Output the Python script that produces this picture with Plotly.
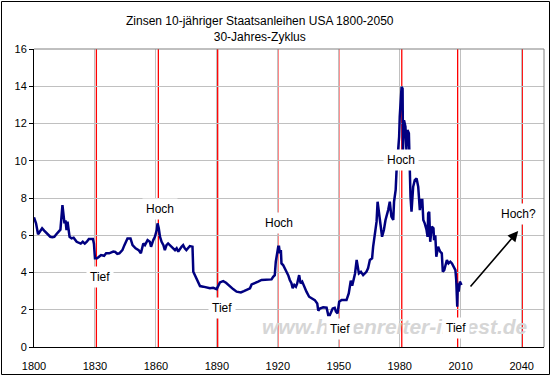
import plotly.graph_objects as go

# ---- data ----
years = [1800, 1801, 1802, 1803, 1804, 1805, 1806, 1807, 1808, 1809, 1810, 1811, 1812, 1813,
         1814, 1815, 1815.5, 1816, 1816.5, 1817, 1817.5, 1818.5, 1819.5, 1821, 1822, 1823, 1824,
         1825, 1826, 1827, 1829, 1829.5, 1830, 1831, 1832, 1833, 1834.5, 1835.5, 1837, 1839, 1840,
         1841, 1842, 1843.5, 1844.5, 1846, 1847.5, 1848.5, 1850, 1851.5, 1852.6, 1853.8, 1854.6,
         1855.9, 1857, 1857.6, 1858.7, 1859.5, 1860.4, 1860.8, 1861.4, 1862, 1862.8, 1863.7, 1864.4,
         1865.2, 1866, 1867.7, 1869.4, 1870.2, 1871, 1872.6, 1873.4, 1874.2, 1875, 1876.7, 1877.5,
         1878, 1878.4, 1879.2, 1880, 1880.8, 1881.7, 1883.3, 1885, 1886.6, 1888.2, 1889.9, 1891.5,
         1893.1, 1894.5, 1896.4, 1898, 1899.7, 1901.8, 1903.3, 1904.6, 1906.3, 1907.1, 1908.7,
         1910.3, 1912, 1913.6, 1915.3, 1916.9, 1917.7, 1918.5, 1919, 1919.7, 1920.2, 1920.6, 1921,
         1921.5, 1921.8, 1922.6, 1924, 1925.1, 1925.9, 1926.7, 1927.3, 1928.1, 1928.9, 1929.5,
         1930.5, 1931.2, 1932, 1933.3, 1934.1, 1935.4, 1936.6, 1938.2, 1939.4, 1939.9, 1940.7,
         1942.3, 1944, 1944.8, 1945.6, 1947, 1948, 1948.6, 1949.4, 1950.2, 1951.4, 1953.8, 1954.9,
         1955.9, 1956.6, 1957.1, 1958, 1958.8, 1959.2, 1959.9, 1960.9, 1962, 1963.6, 1964.4,
         1965.3, 1966.4, 1966.9, 1967.7, 1968.6, 1969.1, 1969.7, 1970.5, 1971.3, 1972.2, 1973,
         1974.3, 1975.1, 1975.9, 1976.8, 1977.2, 1978, 1978.4, 1979.2, 1979.7, 1980, 1980.5,
         1980.9, 1981.4, 1981.6, 1982.1, 1982.8, 1983.3, 1983.8, 1984.5, 1984.8, 1985.3, 1985.8,
         1986.6, 1987.4, 1988.3, 1989.1, 1989.9, 1990.4, 1991.1, 1991.6, 1992.3, 1993.2, 1993.7,
         1994, 1994.5, 1995, 1995.8, 1996.6, 1996.9, 1997.5, 1998, 1998.9, 1999.9, 2000.7, 2001.2,
         2001.9, 2002.4, 2003.2, 2004, 2004.9, 2005.7, 2007.4, 2007.8, 2008.3, 2008.6, 2009,
         2009.6, 2010.4]
yields = [6.96, 6.64, 6.05, 6.2, 6.37, 6.25, 6.15, 6.05, 5.92, 5.9, 5.92, 6.05, 6.2, 6.3,
          7.62, 6.64, 6.8, 6.28, 6.73, 6.28, 5.92, 5.83, 5.87, 5.65, 5.62, 5.55, 5.65,
          5.55, 5.65, 5.8, 5.8, 5.55, 4.76, 4.76, 4.85, 4.94, 4.9, 5.03, 5.03, 5.12, 5.1,
          5.0, 5.03, 5.2, 5.47, 5.83, 5.83, 5.47, 5.3, 5.2, 5.03, 5.56, 5.47,
          5.74, 5.65, 5.38, 5.74, 5.92, 6.28, 6.64, 6.37, 5.92, 5.65, 5.47, 5.2,
          5.47, 5.56, 5.38, 5.2, 5.3, 5.12, 5.38, 5.47, 5.3, 5.2, 5.42, 5.38,
          5.38, 4.04, 3.86, 3.69, 3.42, 3.27, 3.24, 3.2, 3.15, 3.18, 3.11, 3.47,
          3.54, 3.45, 3.24, 3.11, 2.97, 2.93, 3.0, 3.06, 3.15, 3.36, 3.42,
          3.51, 3.6, 3.6, 3.63, 3.63, 3.77, 3.86, 4.58, 4.94, 5.38, 5.38, 5.03,
          5.2, 4.49, 4.4, 4.13, 3.86, 3.6, 3.42, 3.15, 3.33, 3.24, 3.4,
          3.86, 3.42, 3.51, 3.15, 2.97, 2.7, 2.61, 2.52, 2.34, 1.95, 2.07,
          2.13, 2.11, 1.72, 1.72, 2.07, 2.1, 1.9, 1.81, 2.43, 2.52, 2.52, 2.88,
          3.56, 3.29, 3.5, 3.95, 4.67, 4.31, 3.95, 4.04, 3.86, 4.04, 4.22,
          4.67, 4.76, 5.38, 5.92, 6.73, 7.8, 7.26, 6.64, 5.92, 6.28, 6.82,
          7.35, 7.8, 7.0, 6.82, 7.8, 8.43, 9.4, 10.57, 11.29, 12.36, 13.08,
          13.97, 13.88, 10.57, 12.18, 11.83, 10.57, 11.65, 11.47, 9.32, 8.07, 7.26,
          8.6, 8.96, 9.05, 8.6, 7.35, 7.89, 7.89, 6.82, 6.64, 6.28, 5.92,
          7.17, 7.26, 5.65, 6.46, 6.37, 5.74, 6.0, 4.85, 5.38, 5.12, 5.03, 4.04,
          4.13, 4.4, 4.67, 4.49, 4.58, 4.49, 4.13, 3.6, 2.16, 3.42, 2.97,
          3.51, 3.33]

x_ticks = [1800, 1830, 1860, 1890, 1920, 1950, 1980, 2010, 2040]
y_ticks = [0, 2, 4, 6, 8, 10, 12, 14, 16]

cycle_years = [1830.7, 1861.2, 1890.4, 1920, 1950, 1981, 2008.5, 2040.3]
label_texts = ["Tief", "Hoch", "Tief", "Hoch", "Tief", "Hoch", "Tief", "Hoch?"]
label_x = [1832.7, 1862.2, 1892.4, 1920.7, 1950.7, 1980.6, 2007.9, 2038.4]
label_y = [3.77, 7.39, 2.11, 6.64, 0.95, 10.04, 1.04, 7.14]

arrow_from = (2014.2, 3.17)
arrow_to = (2038.3, 6.23)

title_lines = ["Zinsen 10-jähriger Staatsanleihen USA 1800-2050", "30-Jahres-Zyklus"]
watermark = "www.hellenreiter-invest.de"

FONT = "Liberation Sans, Arial, sans-serif"

fig = go.Figure()
fig.add_trace(go.Scatter(x=years, y=yields, mode="lines",
                         line=dict(color="#000080", width=2.5), hoverinfo="skip",
                         showlegend=False))

shapes = []
for cy in cycle_years:
    shapes.append(dict(type="line", xref="x", yref="paper", x0=cy, x1=cy, y0=0, y1=1,
                       line=dict(color="#ff0000", width=1.3), layer="between"))
# plot area top/right border (gray)
shapes.append(dict(type="line", xref="paper", yref="paper", x0=0, x1=1, y0=1, y1=1,
                   line=dict(color="#808080", width=1), layer="above"))
shapes.append(dict(type="line", xref="paper", yref="paper", x0=1, x1=1, y0=0, y1=1,
                   line=dict(color="#808080", width=1), layer="above"))
# outer chart frame
shapes.append(dict(type="rect", xref="paper", yref="paper",
                   x0=(1.5 - 34) / 510, x1=(549.5 - 34) / 510,
                   y0=(347 - 374.5) / 298, y1=(347 - 1.5) / 298,
                   line=dict(color="#000000", width=1), layer="above"))

annotations = []
annotations.append(dict(text="<b><i>" + watermark + "</i></b>", xref="paper", yref="paper",
                        x=(395 - 34) / 510, y=(347 - 326) / 298, showarrow=False,
                        xanchor="center", yanchor="middle",
                        font=dict(family=FONT, size=21, color="#d6d6d6")))
for t, lx, ly in zip(label_texts, label_x, label_y):
    annotations.append(dict(text=t, x=lx, y=ly, xref="x", yref="y", showarrow=False,
                            xanchor="center", yanchor="middle",
                            bgcolor="white", borderpad=3,
                            font=dict(family=FONT, size=12, color="#000000")))
annotations.append(dict(x=arrow_to[0], y=arrow_to[1], ax=arrow_from[0], ay=arrow_from[1],
                        xref="x", yref="y", axref="x", ayref="y", text="", showarrow=True,
                        arrowhead=2, arrowsize=1.3, arrowwidth=1.6, arrowcolor="#000000"))
annotations.append(dict(text=title_lines[0] + "<br>" + title_lines[1], xref="paper",
                        yref="paper", x=(260 - 34) / 510, y=(347 - 28.5) / 298,
                        xanchor="center", yanchor="middle",
                        showarrow=False, align="center",
                        font=dict(family=FONT, size=12, color="#000000")))

fig.update_layout(
    width=553, height=377,
    margin=dict(l=34, r=9, t=49, b=30, autoexpand=False),
    paper_bgcolor="white", plot_bgcolor="white",
    shapes=shapes, annotations=annotations,
    font=dict(family=FONT, size=11, color="#000000"),
    xaxis=dict(range=[1800, 2051], tickvals=x_ticks, ticktext=[str(v) for v in x_ticks],
               showgrid=True, gridcolor="#c0c0c0", gridwidth=1, zeroline=False,
               showline=True, linecolor="#000000", linewidth=1, ticks="",
               ticklabelstandoff=9, automargin=False,
               tickfont=dict(family=FONT, size=11)),
    yaxis=dict(range=[0, 16], tickvals=y_ticks, showgrid=True, gridcolor="#c0c0c0",
               gridwidth=1, zeroline=False, showline=True, linecolor="#000000",
               linewidth=1, ticks="outside", ticklen=4, tickcolor="#000000",
               automargin=False, tickfont=dict(family=FONT, size=11)),
)

fig.write_html("out.html", config={"displayModeBar": False},
               post_script="document.body.style.margin='0';document.body.style.padding='0';")
